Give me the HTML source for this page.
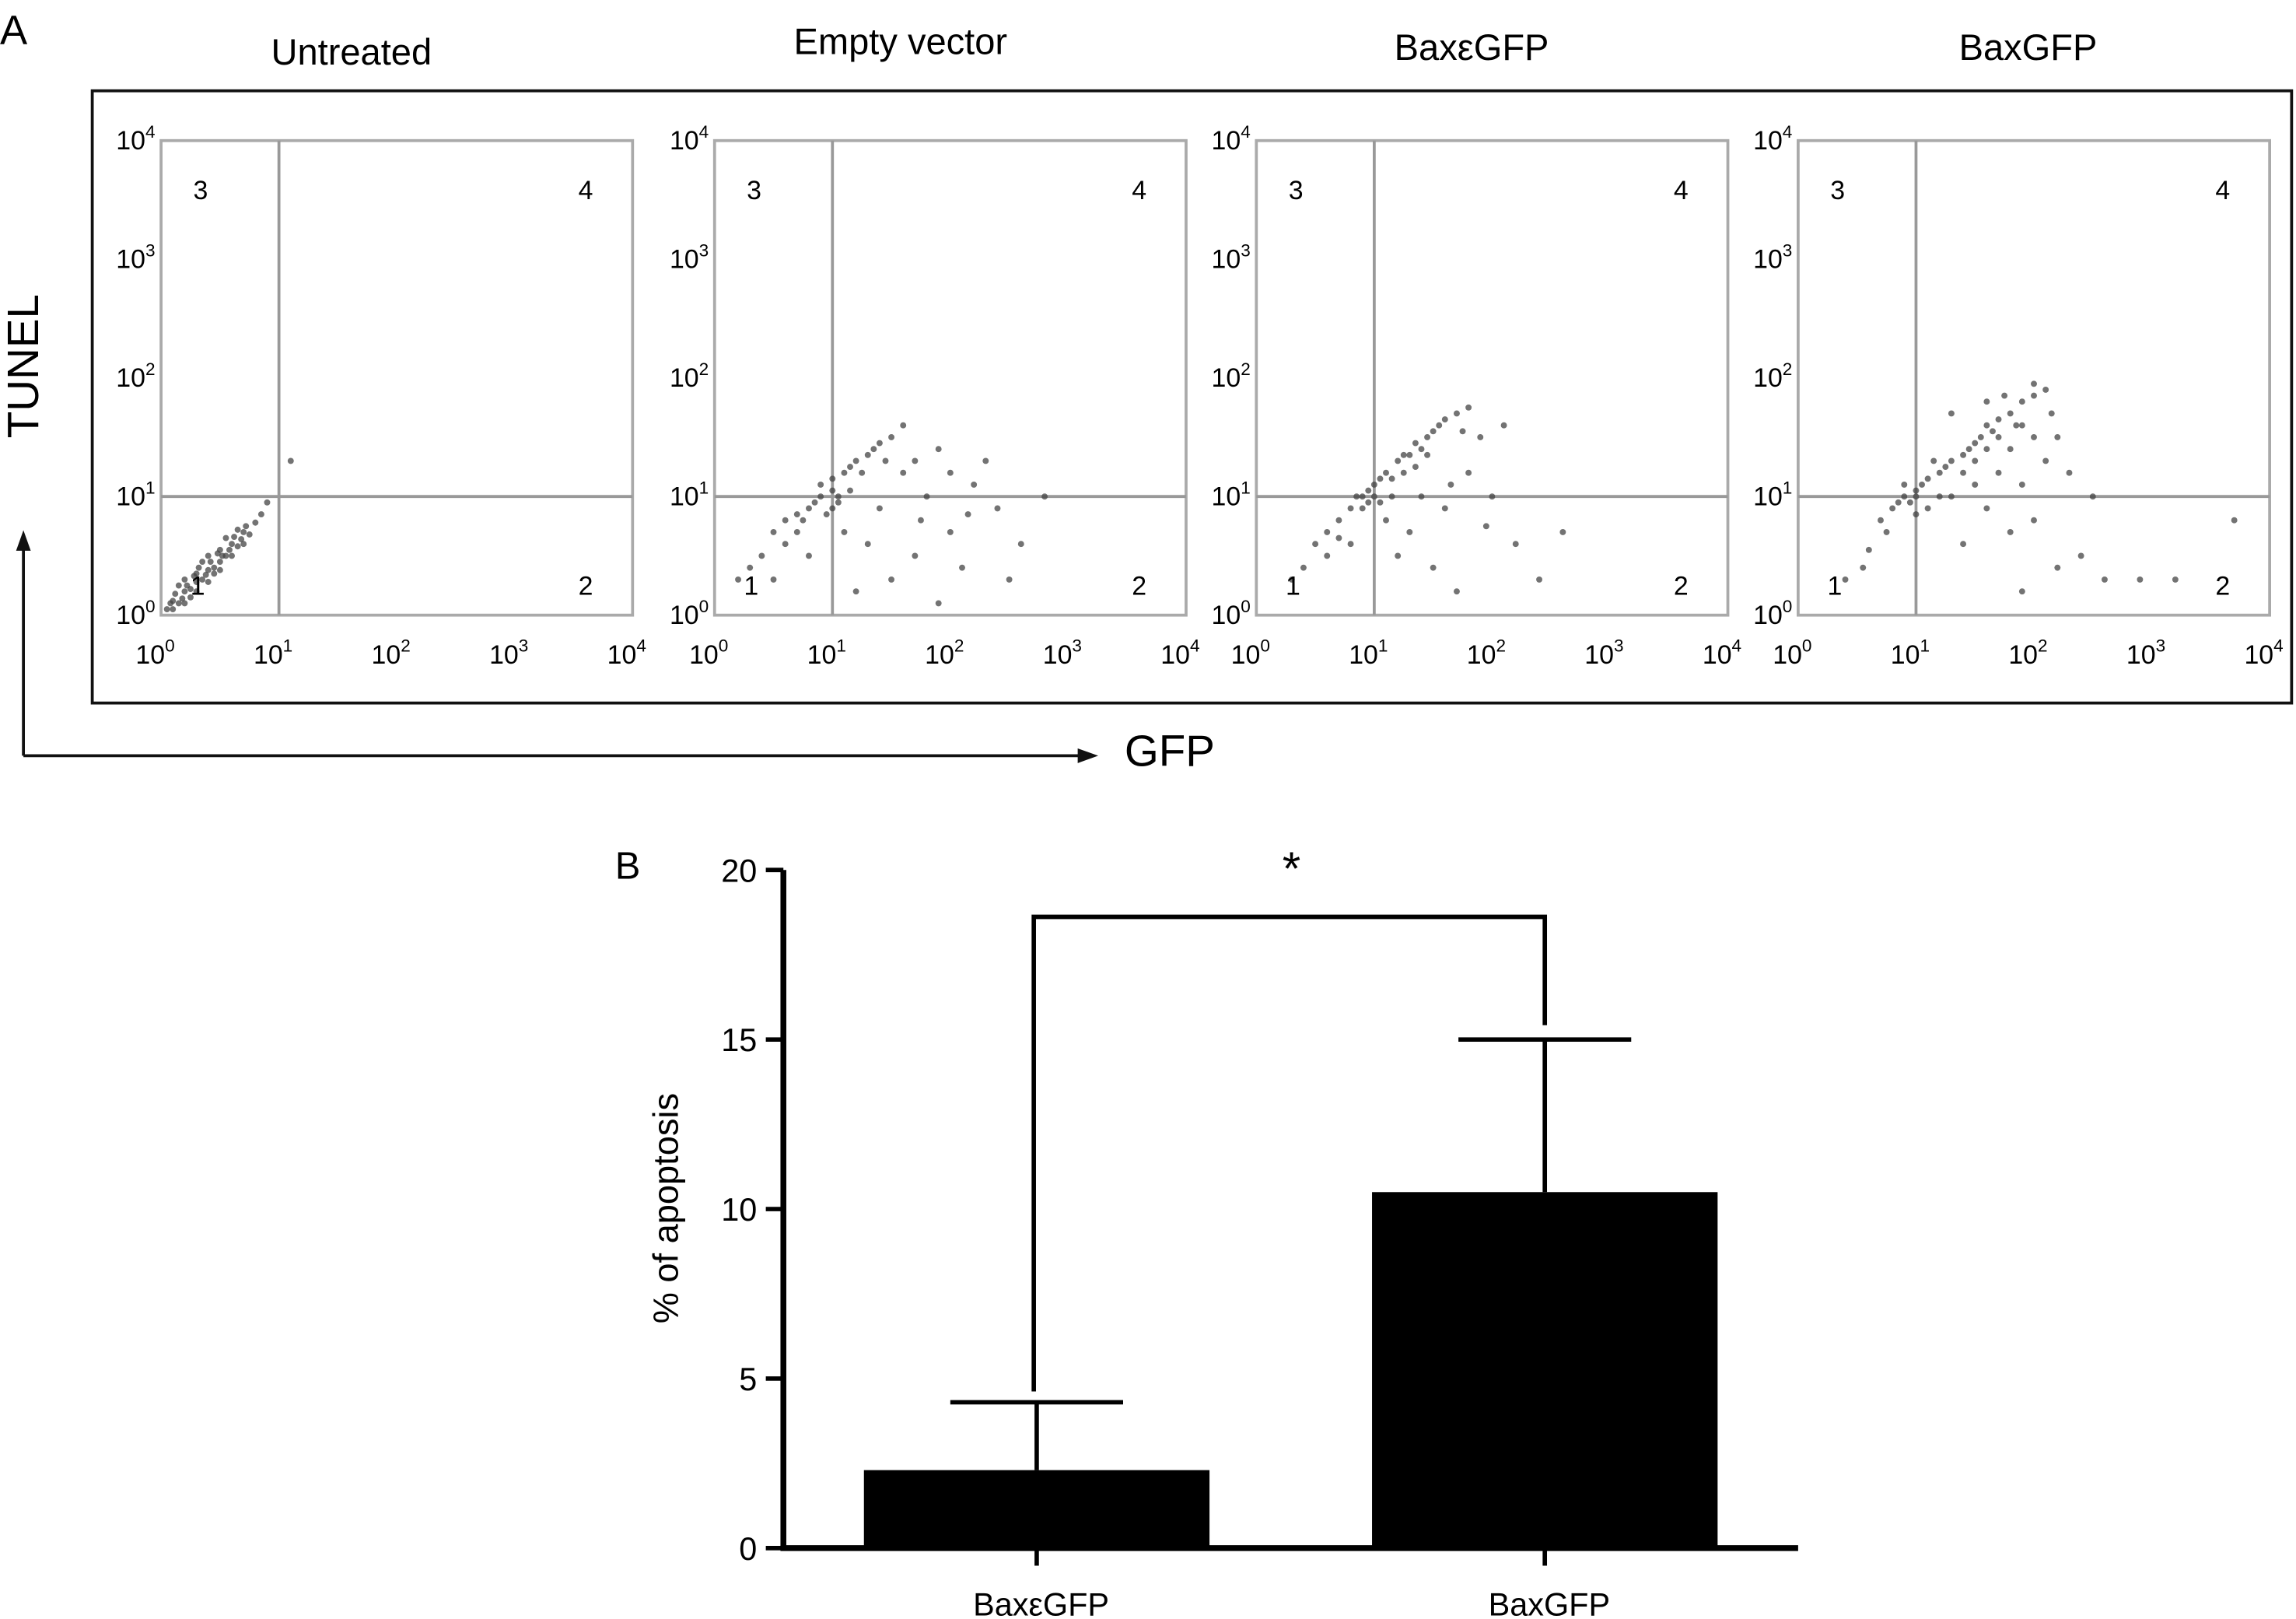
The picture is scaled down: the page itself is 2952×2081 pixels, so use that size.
<!DOCTYPE html>
<html><head><meta charset="utf-8">
<style>
html,body{margin:0;padding:0;background:#fff;}
svg{display:block;font-family:"Liberation Sans",Arial,sans-serif;}
</style></head>
<body>
<svg id="fig" width="2952" height="2081" viewBox="0 0 1568 1105.4" preserveAspectRatio="none" xmlns="http://www.w3.org/2000/svg">
<text x="0" y="30" font-size="28">A</text>
<rect x="63" y="62" width="1502" height="418" fill="none" stroke="#111" stroke-width="2"/>
<g id="flow"></g>
<text transform="translate(26,250) rotate(-90)" text-anchor="middle" font-size="30">TUNEL</text>
<line x1="16" y1="516" x2="16" y2="372" stroke="#111" stroke-width="2"/>
<polygon points="16,362 11,376 21,376" fill="#111"/>
<line x1="16" y1="516" x2="738" y2="516" stroke="#111" stroke-width="2"/>
<polygon points="750,516 736,511 736,521" fill="#111"/>
<text x="768" y="523" font-size="30">GFP</text>
<text x="420" y="600" font-size="26">B</text>
<g id="bars"></g>
</svg>
<script>
// ---- Panel A data ----
const panelTitles = ["Untreated", "Empty vector", "Bax\u03b5GFP", "BaxGFP"];
const quadrantLabels = ["3", "4", "1", "2"];
const decadeTicks = [0, 1, 2, 3, 4];
const gateX = 1, gateY = 1;
const pointsUntreated = [[0.05,0.05],[0.1,0.12],[0.15,0.1],[0.2,0.2],[0.25,0.22],[0.3,0.28],[0.3,0.35],[0.35,0.3],[0.4,0.38],[0.45,0.4],[0.5,0.45],[0.5,0.55],[0.55,0.5],[0.6,0.6],[0.65,0.58],[0.7,0.7],[0.75,0.68],[0.8,0.78],[0.2,0.3],[0.4,0.5],[0.6,0.5],[0.35,0.45],[0.45,0.35],[0.55,0.65],[0.7,0.6],[0.25,0.15],[0.15,0.25],[0.1,0.05],[0.85,0.85],[0.65,0.72],[0.5,0.38],[0.3,0.2],[0.4,0.28],[0.2,0.1],[1.1,1.3],[0.9,0.95],[0.12,0.18],[0.22,0.25],[0.32,0.4],[0.42,0.45],[0.52,0.5],[0.62,0.66],[0.72,0.75],[0.28,0.33],[0.38,0.34],[0.48,0.52],[0.58,0.55],[0.18,0.14],[0.08,0.1],[0.68,0.64]];
const pointsEmpty = [[0.3,0.4],[0.4,0.5],[0.5,0.7],[0.6,0.8],[0.7,0.85],[0.8,0.9],[0.9,1.0],[1.0,1.05],[1.0,1.15],[1.1,1.2],[1.2,1.3],[1.3,1.35],[1.4,1.45],[1.5,1.5],[0.9,1.1],[1.05,0.95],[1.15,1.25],[1.25,1.2],[0.7,0.7],[0.6,0.6],[0.2,0.3],[1.6,1.2],[1.8,1.0],[2.0,0.7],[2.2,1.1],[1.7,0.5],[1.9,1.4],[2.4,0.9],[2.6,0.6],[1.5,0.3],[2.1,0.4],[1.3,0.6],[1.2,0.2],[2.3,1.3],[2.8,1.0],[1.9,0.1],[2.5,0.3],[1.6,1.6],[1.4,0.9],[1.1,0.7],[0.8,0.5],[0.5,0.3],[2.0,1.2],[1.75,0.8],[0.95,0.85],[1.05,1.0],[0.85,0.95],[1.35,1.4],[1.45,1.3],[1.0,0.9],[0.75,0.8],[1.15,1.05],[1.7,1.3],[2.15,0.85]];
const pointsBaxE = [[0.3,0.3],[0.5,0.6],[0.6,0.7],[0.7,0.8],[0.8,0.9],[0.9,1.0],[0.95,1.05],[1.0,1.1],[1.05,0.95],[1.1,1.2],[1.2,1.3],[1.3,1.35],[1.35,1.45],[1.45,1.5],[1.5,1.55],[1.6,1.65],[1.7,1.7],[1.8,1.75],[0.85,1.0],[0.9,0.9],[1.0,1.0],[1.15,1.15],[1.25,1.2],[1.4,1.4],[1.55,1.6],[0.7,0.65],[0.6,0.5],[1.3,0.7],[1.6,0.9],[1.8,1.2],[2.0,1.0],[2.2,0.6],[1.5,0.4],[2.4,0.3],[1.9,1.5],[2.1,1.6],[1.2,0.5],[1.7,0.2],[2.6,0.7],[1.4,1.0],[1.1,0.8],[0.8,0.6],[0.4,0.4],[1.65,1.1],[1.95,0.75],[1.05,1.15],[1.15,1.0],[0.95,0.95],[1.35,1.25],[1.45,1.35],[1.75,1.55],[1.25,1.35]];
const pointsBax = [[0.4,0.3],[0.6,0.55],[0.7,0.8],[0.8,0.9],[0.9,1.0],[0.95,0.95],[1.0,1.05],[1.05,1.1],[1.1,1.15],[1.2,1.2],[1.3,1.3],[1.4,1.35],[1.5,1.45],[1.55,1.5],[1.6,1.6],[1.7,1.65],[1.8,1.7],[1.9,1.8],[2.0,1.85],[2.1,1.9],[1.5,1.3],[1.6,1.4],[1.7,1.5],[1.8,1.4],[1.9,1.6],[2.0,1.5],[1.4,1.2],[1.3,1.0],[1.5,1.1],[1.7,1.2],[1.9,1.1],[2.1,1.3],[2.2,1.5],[2.3,1.2],[1.2,1.0],[1.1,0.9],[1.0,0.85],[0.85,0.95],[1.0,1.0],[0.9,1.1],[1.6,0.9],[1.8,0.7],[2.0,0.8],[2.4,0.5],[1.4,0.6],[2.2,0.4],[2.6,0.3],[2.9,0.3],[3.2,0.3],[1.9,0.2],[1.3,1.7],[1.6,1.8],[2.0,1.95],[1.75,1.85],[2.15,1.7],[1.25,1.25],[1.45,1.4],[1.65,1.55],[1.85,1.6],[0.75,0.7],[0.55,0.4],[3.7,0.8],[2.5,1.0],[1.15,1.3]];
const panelPoints = [pointsUntreated, pointsEmpty, pointsBaxE, pointsBax];
const panelLefts = [110, 488, 858, 1228];
const panelW = 322, panelTop = 96, panelH = 324;

const NS = "http://www.w3.org/2000/svg";
function mk(tag, attrs, parent, txt){const e=document.createElementNS(NS,tag);for(const k in attrs)e.setAttribute(k,attrs[k]);if(txt!==undefined)e.textContent=txt;parent.appendChild(e);return e;}
const flow = document.getElementById('flow');
const titleX = [240, 615, 1005, 1385], titleY=[44,37,41,41];
panelTitles.forEach((t,p)=>{
  const L = panelLefts[p];
  const xs = v => L + v/4*panelW;
  const ys = v => panelTop + panelH - v/4*panelH;
  const tt = mk('text',{x:titleX[p],y:titleY[p],'text-anchor':'middle','font-size':25},flow,t);
  
  
  const g = mk('g',{},flow);
  
  
  const r = mk('rect',{x:L,y:panelTop,width:panelW,height:panelH,fill:'none',stroke:'#aaa','stroke-width':2},g);
  
  
  const vl = mk('line',{x1:xs(gateX),x2:xs(gateX),y1:panelTop,y2:panelTop+panelH,stroke:'#999','stroke-width':2},g);
  
  
  const hl = mk('line',{x1:L,x2:L+panelW,y1:ys(gateY),y2:ys(gateY),stroke:'#999','stroke-width':2},g);
  
  
  panelPoints[p].forEach(pt=>{
    const c = mk('circle',{cx:xs(pt[0]),cy:ys(pt[1]),r:2.1,fill:'#444','fill-opacity':0.75},g);
    
    
  });
  const qx=[L+27,L+290,L+25,L+290], qy=[136,136,406,406];
  quadrantLabels.forEach((q,i)=>{
    const e = mk('text',{x:qx[i],y:qy[i],'text-anchor':'middle','font-size':18},g,q);
    
    
  });
  decadeTicks.forEach(d=>{
    const tx = mk('text',{x:xs(d)-4,y:453,'text-anchor':'middle','font-size':18},g);
    
    
    mk('tspan',{},tx,'10');
    mk('tspan',{dy:-8,'font-size':12},tx,String(d));
    const ty = mk('text',{x:L-4,y:ys(d)+6,'text-anchor':'end','font-size':18},g);
    
    
    mk('tspan',{},ty,'10');
    mk('tspan',{dy:-8,'font-size':12},ty,String(d));
  });
});

// ---- Panel B data ----
const barCategories = ["Bax\u03b5GFP", "BaxGFP"];
const barValues = [2.3, 10.5];
const barErrors = [2.0, 4.5];
const yTicks = [0, 5, 10, 15, 20];
const bars = document.getElementById('bars');
const ax0 = 535, ay0 = 1057, ayTop = 594, axEnd = 1228;
const yv = v => ay0 - v/20*(ay0-ayTop);
const barCenters = [708, 1055], barW = 236;
const ya = mk('line',{x1:ax0,x2:ax0,y1:ayTop,y2:ay0,stroke:'#000','stroke-width':4},bars);


const xa = mk('line',{x1:ax0-2,x2:axEnd,y1:ay0,y2:ay0,stroke:'#000','stroke-width':4},bars);


yTicks.forEach(t=>{
  const l = mk('line',{x1:ax0-12,x2:ax0,y1:yv(t),y2:yv(t),stroke:'#000','stroke-width':3},bars);
  
  
  const tx = mk('text',{x:ax0-18,y:yv(t)+8,'text-anchor':'end','font-size':22},bars,String(t));
  
  
});
barCategories.forEach((c,i)=>{
  const cx = barCenters[i];
  const b = mk('rect',{x:cx-barW/2,y:yv(barValues[i]),width:barW,height:ay0-yv(barValues[i]),fill:'#000'},bars);
  
  
  const top = barValues[i]+barErrors[i];
  const e = mk('line',{x1:cx,x2:cx,y1:yv(barValues[i]),y2:yv(top),stroke:'#000','stroke-width':3},bars);
  
  
  const cap = mk('line',{x1:cx-59,x2:cx+59,y1:yv(top),y2:yv(top),stroke:'#000','stroke-width':3},bars);
  
  
  const tk = mk('line',{x1:cx,x2:cx,y1:ay0,y2:ay0+12,stroke:'#000','stroke-width':3},bars);
  
  
  const lb = mk('text',{x:cx+3,y:1103,'text-anchor':'middle','font-size':22},bars,c);
  
  
});
const br = mk('polyline',{points:`${barCenters[0]-2},950 ${barCenters[0]-2},626 ${barCenters[1]},626 ${barCenters[1]},700`,fill:'none',stroke:'#000','stroke-width':3},bars);


const st = mk('text',{x:882,y:604,'text-anchor':'middle','font-size':32},bars,'*');


const yt = mk('text',{transform:'translate(463,825) rotate(-90)','text-anchor':'middle','font-size':24},bars,'% of apoptosis');


</script>
</body></html>
